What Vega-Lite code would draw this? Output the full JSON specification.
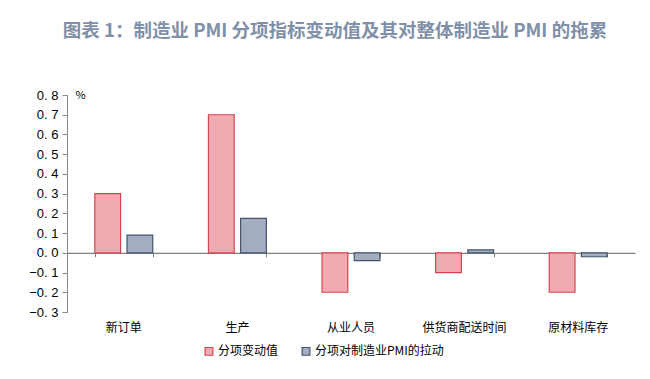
{
  "$schema": "https://vega.github.io/schema/vega-lite/v6.json",
  "width": 568,
  "height": 217,
  "autosize": "none",
  "padding": {"left": 67, "top": 95, "right": 15, "bottom": 67},
  "background": "white",
  "title": {
    "text": "图表 1：制造业 PMI 分项指标变动值及其对整体制造业 PMI 的拖累",
    "font": "Noto Sans CJK SC",
    "fontSize": 18.5,
    "fontWeight": "bold",
    "color": "#7f90a8",
    "anchor": "middle",
    "frame": "group",
    "dx": -16,
    "offset": 49
  },
  "config": {
    "view": {"stroke": null},
    "font": "Noto Sans CJK SC"
  },
  "data": {
    "values": [
      {"cat": "新订单", "series": "分项变动值", "value": 0.3},
      {"cat": "新订单", "series": "分项对制造业PMI的拉动", "value": 0.09},
      {"cat": "生产", "series": "分项变动值", "value": 0.7},
      {"cat": "生产", "series": "分项对制造业PMI的拉动", "value": 0.175},
      {"cat": "从业人员", "series": "分项变动值", "value": -0.2},
      {"cat": "从业人员", "series": "分项对制造业PMI的拉动", "value": -0.04},
      {"cat": "供货商配送时间", "series": "分项变动值", "value": -0.1},
      {"cat": "供货商配送时间", "series": "分项对制造业PMI的拉动", "value": 0.015},
      {"cat": "原材料库存", "series": "分项变动值", "value": -0.2},
      {"cat": "原材料库存", "series": "分项对制造业PMI的拉动", "value": -0.02}
    ]
  },
  "resolve": {"axis": {"x": "independent"}},
  "layer": [
    {
      "mark": {"type": "bar", "strokeWidth": 1.2},
      "encoding": {
        "x": {
          "field": "cat",
          "type": "nominal",
          "sort": null,
          "scale": {"paddingInner": 0.49, "paddingOuter": 0.245},
          "axis": {
            "orient": "bottom",
            "title": null,
            "domain": false,
            "ticks": false,
            "labelAngle": 0,
            "labelFont": "Noto Sans CJK SC",
            "labelFontSize": 12,
            "labelColor": "#000000",
            "labelPadding": 10
          }
        },
        "xOffset": {
          "field": "series",
          "type": "nominal",
          "sort": null,
          "scale": {"paddingInner": 0.2, "paddingOuter": 0}
        },
        "y": {
          "field": "value",
          "type": "quantitative",
          "scale": {"domain": [-0.3, 0.8], "nice": false, "zero": false},
          "axis": {
            "values": [-0.3, -0.2, -0.1, 0, 0.1, 0.2, 0.3, 0.4, 0.5, 0.6, 0.7, 0.8],
            "labelExpr": "replace(replace(format(datum.value, '.1f'), '.', '. '), '-', '−')",
            "labelOverlap": false,
            "labelFlush": false,
            "labelBound": false,
            "grid": false,
            "domainColor": "#888888",
            "tickColor": "#888888",
            "tickSize": 5,
            "labelFont": "Liberation Sans",
            "labelFontSize": 13,
            "labelColor": "#000000",
            "labelPadding": 4,
            "title": "%",
            "titleAngle": 0,
            "titleX": 8,
            "titleY": 0,
            "titleAlign": "left",
            "titleBaseline": "middle",
            "titleFont": "Noto Sans CJK SC",
            "titleFontSize": 11,
            "titleFontWeight": "normal",
            "titleColor": "#000000"
          }
        },
        "fill": {
          "field": "series",
          "type": "nominal",
          "sort": null,
          "scale": {"range": ["#efabb1", "#a3adbf"]},
          "legend": {
            "orient": "none",
            "legendX": 136,
            "legendY": 250,
            "direction": "horizontal",
            "title": null,
            "symbolType": "square",
            "symbolSize": 60,
            "symbolStrokeWidth": 1.2,
            "labelFont": "Noto Sans CJK SC",
            "labelFontSize": 12,
            "labelColor": "#000000",
            "columnPadding": 20,
            "labelOffset": 3
          }
        },
        "stroke": {
          "field": "series",
          "type": "nominal",
          "sort": null,
          "scale": {"range": ["#d9434f", "#44546a"]},
          "legend": null
        }
      }
    },
    {
      "mark": {"type": "text", "text": ""},
      "encoding": {
        "x": {
          "field": "cat",
          "type": "nominal",
          "sort": null,
          "axis": {
            "orient": "bottom",
            "offset": -59.2,
            "title": null,
            "labels": false,
            "domain": true,
            "domainColor": "#808080",
            "domainWidth": 1.2,
            "ticks": true,
            "tickBand": "extent",
            "tickColor": "#808080",
            "tickSize": 4
          }
        }
      }
    }
  ]
}
